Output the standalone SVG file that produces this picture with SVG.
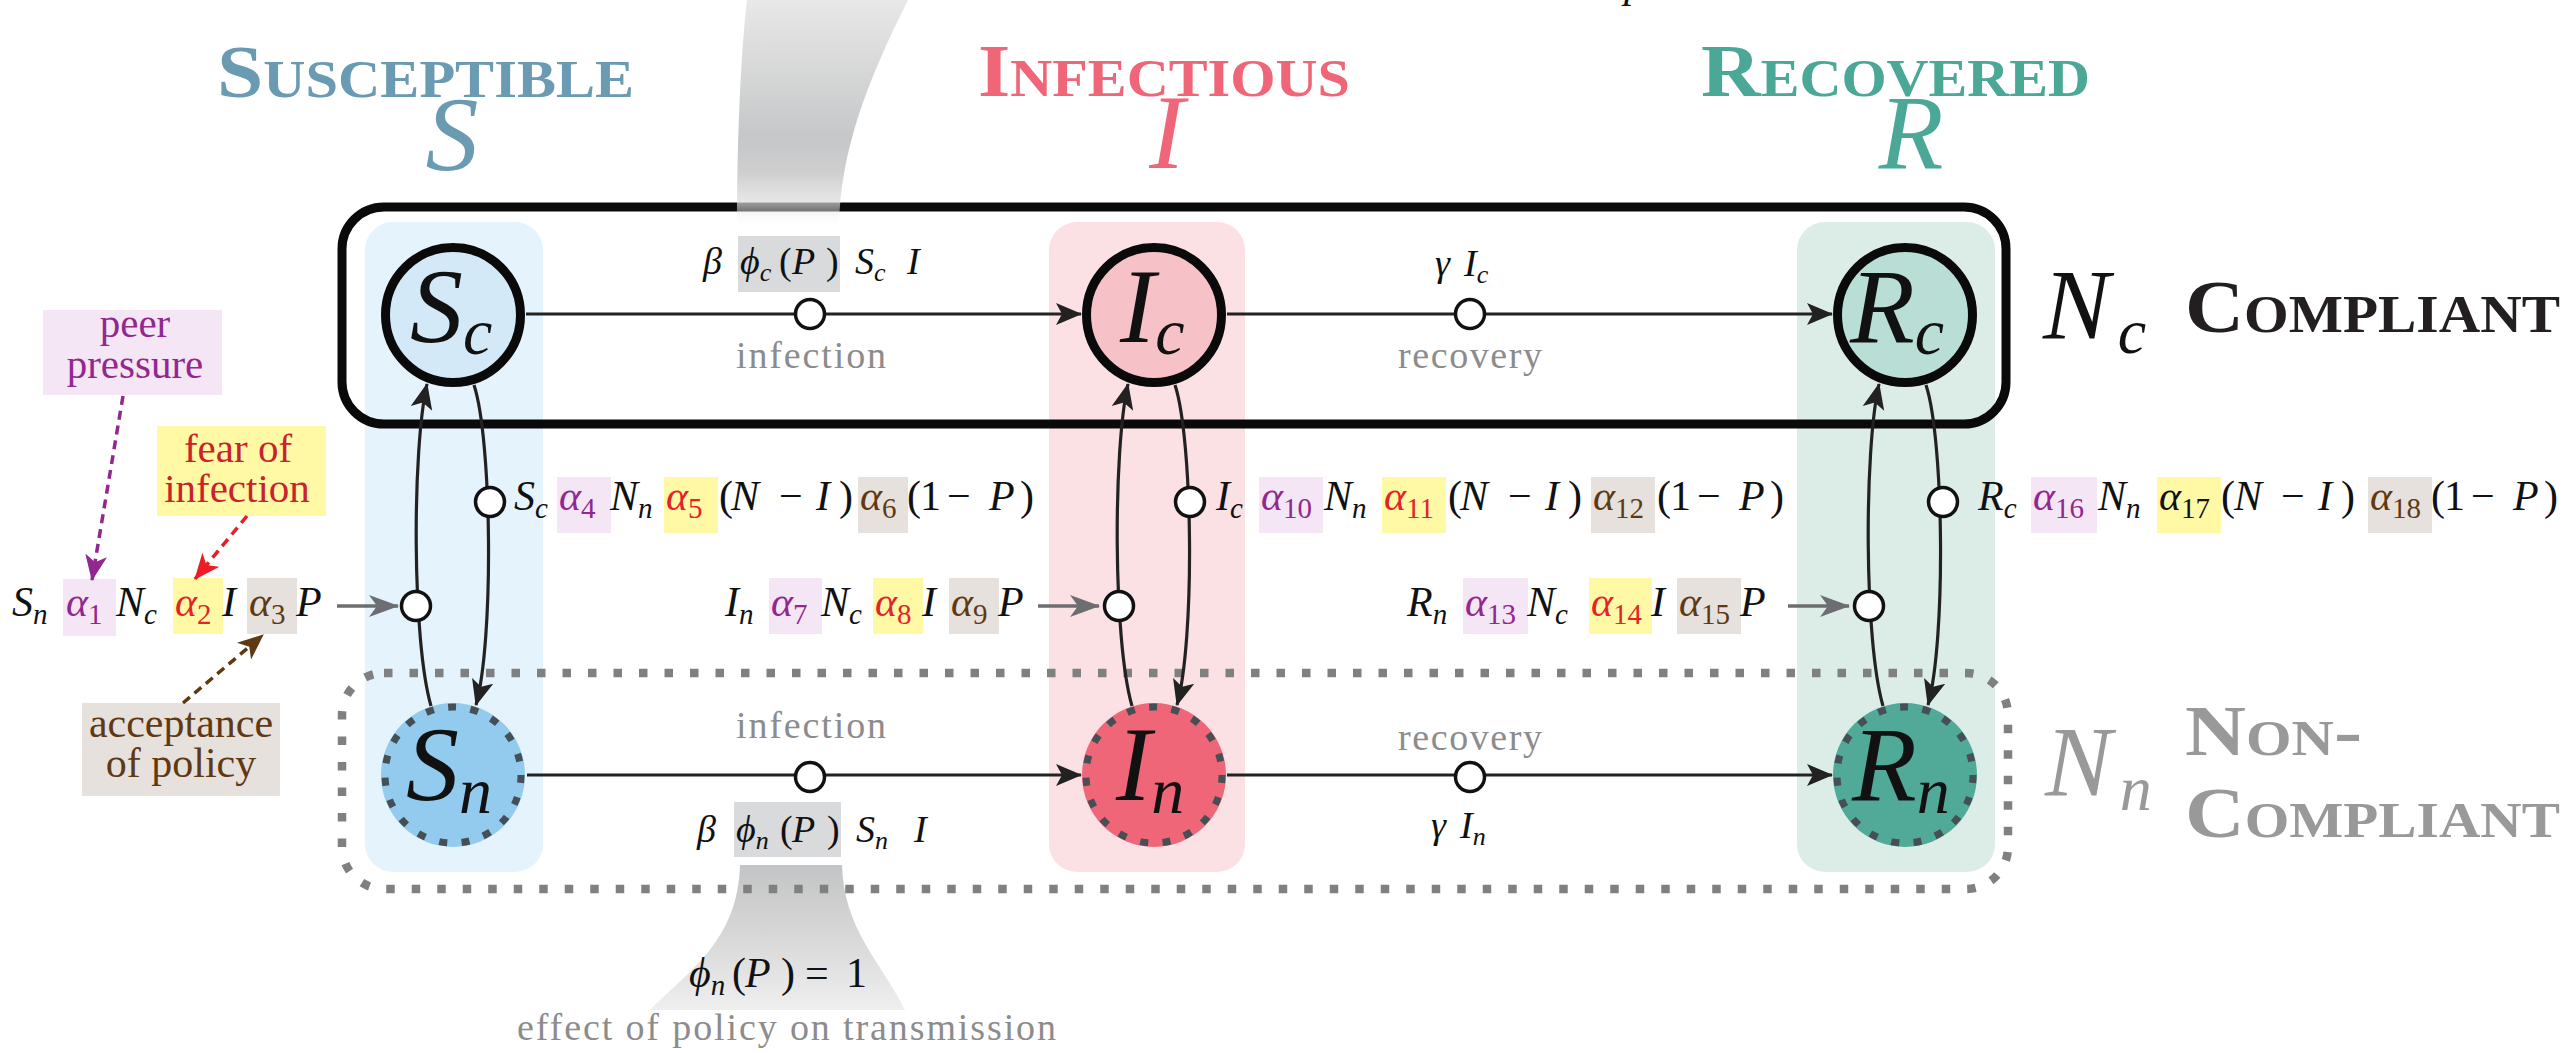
<svg xmlns="http://www.w3.org/2000/svg" width="2570" height="1053" viewBox="0 0 2570 1053">
<defs>
<style>
text{font-family:'Liberation Serif','DejaVu Serif',serif}
.m{font-style:italic;font-size:42px;fill:#111}
.u{font-style:normal}
.s{font-size:29px}
.h{font-style:italic;font-size:38px;fill:#111}
.hs{font-size:26px}
.lbl{font-size:38px;fill:#8c8c8c}
.ann{font-size:41px}
.hd{font-weight:bold;font-variant:small-caps;font-size:74px}
.big{font-style:italic;font-size:106px;fill:#111}
.bigs{font-size:66px}
.pk{fill:#f4e6f4}.yl{fill:#fff9a6}.bg{fill:#e6e1dc}
.cp{fill:#92278f}.cr{fill:#e3232a}.cb{fill:#603913}
.ln{fill:none;stroke:#222;stroke-width:3.2}
.gln{fill:none;stroke:#6d6e71;stroke-width:3.5}
.nd{fill:#fff;stroke:#111;stroke-width:3.5}
.tc{stroke:#0a0a0a;stroke-width:9}
.dc{fill:none;stroke:#454f55;stroke-width:7;stroke-dasharray:8 14.5}
</style>
<marker id="ah" markerUnits="userSpaceOnUse" markerWidth="26" markerHeight="24" viewBox="0 0 26 24" refX="25" refY="12" orient="auto"><path d="M0,1 L26,12 L0,23 L6,12 z" fill="#222"/></marker>
<marker id="ahg" markerUnits="userSpaceOnUse" markerWidth="30" markerHeight="22" viewBox="0 0 30 22" refX="29" refY="11" orient="auto"><path d="M0,0 L30,11 L0,22 L8,11 z" fill="#6d6e71"/></marker>
<marker id="ahp" markerUnits="userSpaceOnUse" markerWidth="26" markerHeight="22" viewBox="0 0 26 22" refX="25" refY="11" orient="auto"><path d="M0,0 L26,11 L0,22 L7,11 z" fill="#92278f"/></marker>
<marker id="ahr" markerUnits="userSpaceOnUse" markerWidth="26" markerHeight="22" viewBox="0 0 26 22" refX="25" refY="11" orient="auto"><path d="M0,0 L26,11 L0,22 L7,11 z" fill="#ed1c24"/></marker>
<marker id="ahb" markerUnits="userSpaceOnUse" markerWidth="26" markerHeight="22" viewBox="0 0 26 22" refX="25" refY="11" orient="auto"><path d="M0,0 L26,11 L0,22 L7,11 z" fill="#603913"/></marker>
<linearGradient id="beamT" gradientUnits="userSpaceOnUse" x1="0" y1="0" x2="0" y2="230">
<stop offset="0" stop-color="#e8e8e8"/>
<stop offset="0.6" stop-color="#c6c7c8"/>
<stop offset="0.75" stop-color="#cfcfd0"/>
<stop offset="0.88" stop-color="#dcdcdc" stop-opacity="0.7"/>
<stop offset="1" stop-color="#ffffff" stop-opacity="0"/>
</linearGradient>
<linearGradient id="beamB" gradientUnits="userSpaceOnUse" x1="0" y1="865" x2="0" y2="1010">
<stop offset="0" stop-color="#c3c4c5"/>
<stop offset="0.55" stop-color="#dadada"/>
<stop offset="1" stop-color="#efefef"/>
</linearGradient>
</defs>
<rect width="2570" height="1053" fill="#fff"/>

<g id="columns">
<rect x="365" y="222" width="178" height="650" rx="28" fill="#e5f3fc"/>
<rect x="1049" y="222" width="196" height="650" rx="28" fill="#fbe0e4"/>
<rect x="1797" y="222" width="198" height="650" rx="28" fill="#dcede8"/>
</g>

<g id="beam-bottom">
<path d="M740,865 L842,865 C844,930 880,960 905,1010 L650,1010 C690,970 738,940 740,865 Z" fill="url(#beamB)"/>
</g>

<g id="group-noncompliant">
<rect x="342" y="673" width="1666" height="216" rx="42" fill="none" stroke="#808080" stroke-width="8.5" stroke-dasharray="8.5 17"/>
<text x="2045" y="795" class="big" style="font-size:100px;fill:#999">N<tspan class="bigs" dx="8" dy="15" style="font-size:64px">n</tspan></text>
<text x="2185" y="755" class="hd" style="font-size:72px" fill="#999" textLength="177" lengthAdjust="spacingAndGlyphs">Non-</text>
<text x="2185" y="837" class="hd" style="font-size:72px" fill="#999" textLength="375" lengthAdjust="spacingAndGlyphs">Compliant</text>
</g>

<g id="group-compliant">
<rect x="342" y="207" width="1664" height="217" rx="42" fill="none" stroke="#0a0a0a" stroke-width="9"/>
<text x="2043" y="338" class="big" style="font-size:100px">N<tspan class="bigs" dx="8" dy="15" style="font-size:64px">c</tspan></text>
<text x="2185" y="332" class="hd" fill="#231f20" textLength="375" lengthAdjust="spacingAndGlyphs">Compliant</text>
</g>

<g id="beam-top">
<path d="M747,0 L908,0 C868,80 840,150 839,228 L737,228 C737,150 740,60 747,0 Z" fill="url(#beamT)"/>
</g>
<text x="1624" y="-3" class="m">p</text>

<g id="headers">
<text x="217" y="97" class="hd" fill="#6b9bb2" textLength="417" lengthAdjust="spacingAndGlyphs">Susceptible</text>
<text x="452" y="170" class="big" style="fill:#6b9bb2" text-anchor="middle">S</text>
<text x="978" y="96" class="hd" fill="#ee6677" textLength="372" lengthAdjust="spacingAndGlyphs">Infectious</text>
<text x="1167" y="168" class="big" style="fill:#ee6677" text-anchor="middle">I</text>
<text x="1701" y="96" class="hd" fill="#4ba896" textLength="389" lengthAdjust="spacingAndGlyphs">Recovered</text>
<text x="1911" y="168" class="big" style="fill:#4ba896" text-anchor="middle">R</text>
</g>

<g id="rate-boxes">
<rect x="738" y="236" width="102" height="56" fill="#d9dadb"/>
<rect x="734" y="802" width="107" height="55" fill="#d9dadb"/>
<rect x="63" y="579" width="53" height="57" class="pk"/>
<rect x="173" y="578" width="50" height="56" class="yl"/>
<rect x="247" y="578" width="50" height="56" class="bg"/>
<rect x="769" y="578" width="53" height="56" class="pk"/>
<rect x="873" y="578" width="50" height="56" class="yl"/>
<rect x="949" y="578" width="50" height="56" class="bg"/>
<rect x="1463" y="578" width="65" height="56" class="pk"/>
<rect x="1589" y="578" width="63" height="56" class="yl"/>
<rect x="1677" y="578" width="64" height="56" class="bg"/>
<rect x="557" y="477" width="54" height="56" class="pk"/>
<rect x="664" y="477" width="54" height="56" class="yl"/>
<rect x="858" y="477" width="50" height="56" class="bg"/>
<rect x="1259" y="477" width="64" height="56" class="pk"/>
<rect x="1382" y="477" width="64" height="56" class="yl"/>
<rect x="1591" y="477" width="64" height="56" class="bg"/>
<rect x="2031" y="477" width="66" height="56" class="pk"/>
<rect x="2157" y="477" width="64" height="56" class="yl"/>
<rect x="2368" y="477" width="64" height="56" class="bg"/>
</g>

<g id="annotations">
<g id="peer-pressure">
<rect x="43" y="310" width="179" height="85" class="pk"/>
<text class="ann cp" text-anchor="middle"><tspan x="135" y="337">peer</tspan><tspan x="135" y="378">pressure</tspan></text>
</g>
<g id="fear-of-infection">
<rect x="157" y="426" width="169" height="90" class="yl"/>
<text class="ann" fill="#c8232c" text-anchor="middle"><tspan x="238" y="462">fear of</tspan><tspan x="237" y="502">infection</tspan></text>
</g>
<g id="acceptance-of-policy">
<rect x="82" y="703" width="198" height="93" class="bg"/>
<text class="ann cb" text-anchor="middle" style="font-size:42px"><tspan x="181" y="737">acceptance</tspan><tspan x="181" y="777">of policy</tspan></text>
</g>
</g>

<g id="formulas">
<text class="h" y="274"><tspan x="703">β</tspan><tspan x="740">ϕ</tspan><tspan class="hs" y="281">c</tspan><tspan x="779" y="274" class="u">(</tspan><tspan x="792">P</tspan><tspan x="826" class="u">)</tspan><tspan x="855">S</tspan><tspan class="hs" y="281">c</tspan><tspan x="907" y="274">I</tspan></text>
<text x="811" y="368" class="lbl" text-anchor="middle" textLength="150">infection</text>
<text class="h" y="276"><tspan x="1435">γ</tspan><tspan x="1464">I</tspan><tspan class="hs" y="283">c</tspan></text>
<text x="1470" y="368" class="lbl" text-anchor="middle" textLength="144">recovery</text>

<text x="811" y="738" class="lbl" text-anchor="middle" textLength="150">infection</text>
<text class="h" y="842"><tspan x="697">β</tspan><tspan x="736">ϕ</tspan><tspan class="hs" y="849">n</tspan><tspan x="780" y="842" class="u">(</tspan><tspan x="792">P</tspan><tspan x="827" class="u">)</tspan><tspan x="856">S</tspan><tspan class="hs" y="849">n</tspan><tspan x="914" y="842">I</tspan></text>
<text x="1470" y="750" class="lbl" text-anchor="middle" textLength="144">recovery</text>
<text class="h" y="838"><tspan x="1431">γ</tspan><tspan x="1460">I</tspan><tspan class="hs" y="845">n</tspan></text>

<text class="m" y="987"><tspan x="689">ϕ</tspan><tspan class="s" y="995">n</tspan><tspan x="732" y="987" class="u">(</tspan><tspan x="745">P</tspan><tspan x="781" class="u">)</tspan><tspan x="805" class="u">=</tspan><tspan x="846" class="u">1</tspan></text>
<text x="517" y="1040" class="lbl" textLength="539">effect of policy on transmission</text>

<text class="m" y="616"><tspan x="12">S</tspan><tspan class="s" y="624">n</tspan><tspan x="66" y="616" class="cp">α</tspan><tspan class="s u cp" y="624">1</tspan><tspan x="116" y="616">N</tspan><tspan class="s" y="624">c</tspan><tspan x="175" y="616" class="cr">α</tspan><tspan class="s u cr" y="624">2</tspan><tspan x="222" y="616">I</tspan><tspan x="249" class="cb">α</tspan><tspan class="s u cb" y="624">3</tspan><tspan x="296" y="616">P</tspan></text>
<text class="m" y="616"><tspan x="725">I</tspan><tspan class="s" y="624">n</tspan><tspan x="771" y="616" class="cp">α</tspan><tspan class="s u cp" y="624">7</tspan><tspan x="821" y="616">N</tspan><tspan class="s" y="624">c</tspan><tspan x="875" y="616" class="cr">α</tspan><tspan class="s u cr" y="624">8</tspan><tspan x="922" y="616">I</tspan><tspan x="951" class="cb">α</tspan><tspan class="s u cb" y="624">9</tspan><tspan x="998" y="616">P</tspan></text>
<text class="m" y="616"><tspan x="1407">R</tspan><tspan class="s" y="624">n</tspan><tspan x="1465" y="616" class="cp">α</tspan><tspan class="s u cp" y="624">13</tspan><tspan x="1527" y="616">N</tspan><tspan class="s" y="624">c</tspan><tspan x="1591" y="616" class="cr">α</tspan><tspan class="s u cr" y="624">14</tspan><tspan x="1651" y="616">I</tspan><tspan x="1679" class="cb">α</tspan><tspan class="s u cb" y="624">15</tspan><tspan x="1740" y="616">P</tspan></text>

<text class="m" y="510"><tspan x="514">S</tspan><tspan class="s" y="518">c</tspan><tspan x="559" y="510" class="cp">α</tspan><tspan class="s u cp" y="518">4</tspan><tspan x="610" y="510">N</tspan><tspan class="s" y="518">n</tspan><tspan x="666" y="510" class="cr">α</tspan><tspan class="s u cr" y="518">5</tspan><tspan x="719" y="510" class="u">(</tspan><tspan x="731">N</tspan><tspan x="779" class="u">−</tspan><tspan x="816">I</tspan><tspan x="839" class="u">)</tspan><tspan x="860" class="cb">α</tspan><tspan class="s u cb" y="518">6</tspan><tspan x="907" y="510" class="u">(</tspan><tspan x="920" class="u">1</tspan><tspan x="947" class="u">−</tspan><tspan x="989">P</tspan><tspan x="1020" class="u">)</tspan></text>
<text class="m" y="510"><tspan x="1216">I</tspan><tspan class="s" y="518">c</tspan><tspan x="1261" y="510" class="cp">α</tspan><tspan class="s u cp" y="518">10</tspan><tspan x="1324" y="510">N</tspan><tspan class="s" y="518">n</tspan><tspan x="1384" y="510" class="cr">α</tspan><tspan class="s u cr" y="518">11</tspan><tspan x="1448" y="510" class="u">(</tspan><tspan x="1460">N</tspan><tspan x="1508" class="u">−</tspan><tspan x="1545">I</tspan><tspan x="1568" class="u">)</tspan><tspan x="1593" class="cb">α</tspan><tspan class="s u cb" y="518">12</tspan><tspan x="1657" y="510" class="u">(</tspan><tspan x="1670" class="u">1</tspan><tspan x="1697" class="u">−</tspan><tspan x="1739">P</tspan><tspan x="1770" class="u">)</tspan></text>
<text class="m" y="510"><tspan x="1978">R</tspan><tspan class="s" y="518">c</tspan><tspan x="2033" y="510" class="cp">α</tspan><tspan class="s u cp" y="518">16</tspan><tspan x="2098" y="510">N</tspan><tspan class="s" y="518">n</tspan><tspan x="2159" y="510">α</tspan><tspan class="s u" y="518">17</tspan><tspan x="2221" y="510" class="u">(</tspan><tspan x="2234">N</tspan><tspan x="2281" class="u">−</tspan><tspan x="2318">I</tspan><tspan x="2341" class="u">)</tspan><tspan x="2370" class="cb">α</tspan><tspan class="s u cb" y="518">18</tspan><tspan x="2431" y="510" class="u">(</tspan><tspan x="2444" class="u">1</tspan><tspan x="2471" class="u">−</tspan><tspan x="2513">P</tspan><tspan x="2544" class="u">)</tspan></text>
</g>

<g id="connectors">
<path class="ln" d="M526,314 H1081" marker-end="url(#ah)"/>
<path class="ln" d="M1227,314 H1832" marker-end="url(#ah)"/>
<path class="ln" d="M527,775 H1081" marker-end="url(#ah)"/>
<path class="ln" d="M1227,775 H1832" marker-end="url(#ah)"/>

<path class="ln" d="M431,706 C412,640 412,450 427,384" marker-end="url(#ah)"/>
<path class="ln" d="M474,385 C492,440 494,640 476,705" marker-end="url(#ah)"/>
<path class="ln" d="M1132,706 C1113,640 1113,450 1128,384" marker-end="url(#ah)"/>
<path class="ln" d="M1175,385 C1193,440 1195,640 1177,705" marker-end="url(#ah)"/>
<path class="ln" d="M1883,706 C1864,640 1864,450 1879,384" marker-end="url(#ah)"/>
<path class="ln" d="M1926,385 C1944,440 1946,640 1928,705" marker-end="url(#ah)"/>

<path class="gln" d="M337,606 H398" marker-end="url(#ahg)"/>
<path class="gln" d="M1038,606 H1099" marker-end="url(#ahg)"/>
<path class="gln" d="M1788,606 H1849" marker-end="url(#ahg)"/>

<path d="M123,396 L92,580" fill="none" stroke="#92278f" stroke-width="3.5" stroke-dasharray="9 6" marker-end="url(#ahp)"/>
<path d="M247,516 L195,579" fill="none" stroke="#ed1c24" stroke-width="3.5" stroke-dasharray="9 6" marker-end="url(#ahr)"/>
<path d="M183,703 L263,635" fill="none" stroke="#603913" stroke-width="3.5" stroke-dasharray="9 6" marker-end="url(#ahb)"/>

<circle class="nd" cx="810" cy="314" r="14.5"/>
<circle class="nd" cx="1470" cy="314" r="14.5"/>
<circle class="nd" cx="810" cy="777" r="14.5"/>
<circle class="nd" cx="1470" cy="777" r="14.5"/>
<circle class="nd" cx="416" cy="606" r="14.5"/>
<circle class="nd" cx="490" cy="502" r="14.5"/>
<circle class="nd" cx="1119" cy="606" r="14.5"/>
<circle class="nd" cx="1190" cy="502" r="14.5"/>
<circle class="nd" cx="1869" cy="606" r="14.5"/>
<circle class="nd" cx="1943" cy="502" r="14.5"/>
</g>

<g id="Sc"><circle cx="453" cy="315" r="67.5" fill="#d3e9f7" class="tc"/><text x="410" y="342" class="big">S<tspan class="bigs" dy="12">c</tspan></text></g>
<g id="Ic"><circle cx="1154" cy="315" r="67.5" fill="#f6c2c8" class="tc"/><text x="1120" y="342" class="big">I<tspan class="bigs" dy="12">c</tspan></text></g>
<g id="Rc"><circle cx="1905" cy="315" r="67.5" fill="#b9ded5" class="tc"/><text x="1850" y="342" class="big">R<tspan class="bigs" dy="12">c</tspan></text></g>

<g id="Sn"><circle cx="453" cy="775" r="72" fill="#93cbef"/><circle cx="453" cy="775" r="68" class="dc"/><text x="406" y="800" class="big">S<tspan class="bigs" dy="13">n</tspan></text></g>
<g id="In"><circle cx="1154" cy="775" r="72" fill="#ee6677"/><circle cx="1154" cy="775" r="68" class="dc"/><text x="1116" y="800" class="big">I<tspan class="bigs" dy="13">n</tspan></text></g>
<g id="Rn"><circle cx="1905" cy="775" r="72" fill="#50aa97"/><circle cx="1905" cy="775" r="68" class="dc"/><text x="1852" y="800" class="big">R<tspan class="bigs" dy="13">n</tspan></text></g>
</svg>
